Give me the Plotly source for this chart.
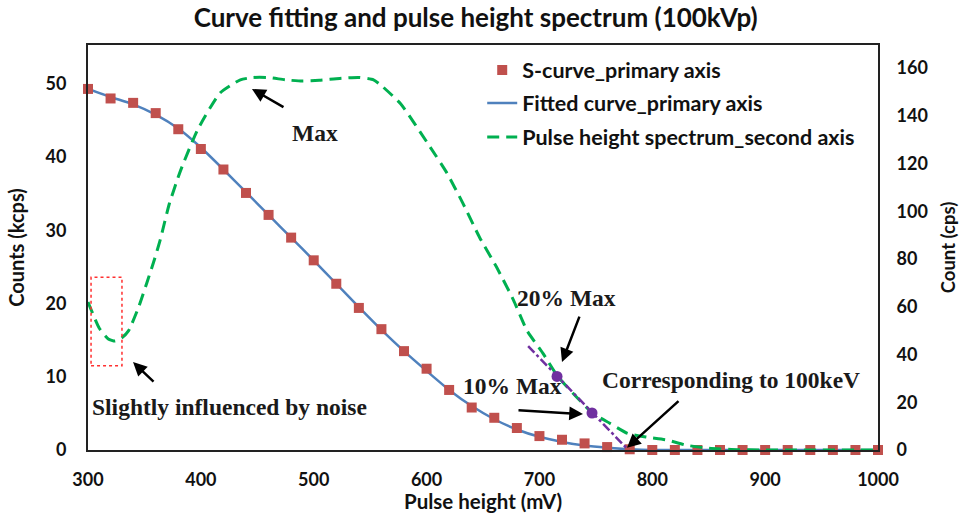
import plotly.graph_objects as go

# ---- data ----
pulse_mv = [300, 320, 340, 360, 380, 400, 420, 440, 460, 480, 500, 520, 540, 560, 580, 600,
            620, 640, 660, 680, 700, 720, 740, 760, 780, 800, 820, 840, 860, 880, 900, 920,
            940, 960, 980, 1000]
s_curve = [49.3, 48.0, 47.4, 46.0, 43.8, 41.1, 38.3, 35.1, 32.1, 29.0, 25.9, 22.7, 19.4, 16.5,
           13.5, 11.1, 8.2, 5.8, 4.4, 3.0, 1.9, 1.4, 0.9, 0.4, 0.1, 0, 0, 0, 0, 0, 0, 0,
           0, 0, 0, 0]
fitted = [49.3, 48.2, 47.2, 45.8, 43.9, 41.3, 38.3, 35.2, 32.1, 29.0, 25.9, 22.7, 19.5, 16.4,
          13.5, 10.8, 8.2, 6.0, 4.2, 2.8, 1.8, 1.1, 0.6, 0.3, 0.1, 0, 0, 0, 0, 0, 0, 0,
          0, 0, 0, 0]

spec_mv = [300, 310, 318, 324, 330, 336, 345, 359, 364, 372, 382, 397, 417, 435, 446, 460, 475,
           490, 505, 523, 540, 553, 559, 577, 603, 618, 632, 647, 662, 677, 689, 703, 716, 747,
           762, 778, 795, 813, 830, 850, 870, 900, 1000]
spec_cps = [62, 51, 46.5, 45.6, 47, 50, 60, 80, 88, 103, 117, 134, 149.5, 155, 156, 156, 155,
            154.5, 154.8, 155.6, 156, 155, 153, 145, 127, 116, 103.5, 89, 76.6, 62.8, 50, 40.6,
            31, 15.5, 11.3, 7, 5.4, 4.2, 2, 0.8, 0.2, 0, 0]

pct_mv = [715.6, 746.6]          # 20% Max, 10% Max points
pct_cps = [30.8, 15.5]
extrap_mv = [690, 778]           # extrapolation line
extrap_cps = [43.5, 0.4]

x_ticks = [300, 400, 500, 600, 700, 800, 900, 1000]
left_ticks = [0, 10, 20, 30, 40, 50]
right_ticks = [0, 20, 40, 60, 80, 100, 120, 140, 160]

SANS = "Lato, 'Open Sans', sans-serif"
SERIF = "'Liberation Serif', 'DejaVu Serif', serif"
BOLDTICK = dict(family=SANS, size=18, color="#111", weight="bold")

fig = go.Figure()

fig.add_trace(go.Scatter(
    x=pulse_mv, y=fitted, mode="lines", name="Fitted curve_primary axis",
    line=dict(color="#4F81BD", width=2.5, shape="spline", smoothing=0.6),
    legend="legend2", cliponaxis=False))
fig.add_trace(go.Scatter(
    x=pulse_mv, y=s_curve, mode="markers", name="S-curve_primary axis",
    marker=dict(symbol="square", size=10, color="#C0504D"),
    legend="legend", cliponaxis=False))
fig.add_trace(go.Scatter(
    x=spec_mv, y=spec_cps, mode="lines", name="Pulse height spectrum_second axis",
    line=dict(color="#00B050", width=3, dash="12px,7px", shape="spline", smoothing=0.5),
    yaxis="y2", legend="legend3", cliponaxis=False))
fig.add_trace(go.Scatter(
    x=extrap_mv, y=extrap_cps, mode="lines", showlegend=False,
    line=dict(color="#7030A0", width=2.5, dash="dashdot"), yaxis="y2"))
fig.add_trace(go.Scatter(
    x=pct_mv, y=pct_cps, mode="markers", showlegend=False,
    marker=dict(symbol="circle", size=11, color="#7030A0"), yaxis="y2"))

# arrows (tip in data coords, tail offset in pixels)
arrows = [
    (445.3, 49.3, 33, 19),
    (339.9, 12.0, 22, 21),
    (720.0, 12.0, 18, -47),
    (738.6, 4.9, -66, -4),
    (777.6, 0.3, 53, -48),
]
for x, y, ax, ay in arrows:
    fig.add_annotation(x=x, y=y, ax=ax, ay=ay, xref="x", yref="y", text="",
                       showarrow=True, arrowhead=2, arrowsize=1.1, arrowwidth=2.5,
                       arrowcolor="black")

labels = [
    ("Max", 501, 43.3),
    ("Slightly influenced by noise", 425.8, 5.9),
    ("20% Max", 724.4, 20.8),
    ("10% Max", 675.7, 8.7),
    ("Corresponding to 100keV", 869.8, 9.6),
]
for t, x, y in labels:
    fig.add_annotation(x=x, y=y, xref="x", yref="y", text="<b>%s</b>" % t,
                       showarrow=False, font=dict(family=SERIF, size=23.5, color="#1a1a1a"))

# x-axis title placed just under the tick labels
fig.add_annotation(x=0.5, y=-0.125, xref="paper", yref="paper", xanchor="center",
                   yanchor="middle", text="<b>Pulse height (mV)</b>", showarrow=False,
                   font=dict(family=SANS, size=20.5, color="#111"))

fig.add_shape(type="rect", xref="x", yref="y", x0=302.7, x1=330.1, y0=11.5, y1=23.6,
              line=dict(color="#FF3030", width=1.5, dash="dot"))

fig.update_layout(
    width=959, height=514,
    margin=dict(l=88, r=81, t=45, b=64),
    paper_bgcolor="white", plot_bgcolor="white",
    title=dict(text="<b>Curve fitting and pulse height spectrum (100kVp)</b>",
               x=0.496, xanchor="center", y=0.965, yanchor="middle",
               font=dict(family=SANS, size=26, color="#111")),
    font=dict(family=SANS, color="#111"),
    xaxis=dict(range=[300, 1000], tickvals=x_ticks, showgrid=False, zeroline=False,
               showline=True, linecolor="#222", linewidth=2, mirror=True, automargin=False,
               ticks="outside", ticklen=12, tickcolor="rgba(0,0,0,0)",
               tickfont=BOLDTICK),
    yaxis=dict(range=[0, 55.3], tickvals=left_ticks, showgrid=False, zeroline=False,
               showline=True, linecolor="#222", linewidth=2, mirror=True, automargin=False,
               ticks="outside", ticklen=16, tickcolor="rgba(0,0,0,0)",
               tickfont=BOLDTICK,
               title=dict(text="<b>Counts (kcps)</b>", standoff=16,
                          font=dict(family=SANS, size=20, color="#111"))),
    yaxis2=dict(range=[0, 169.6], tickvals=right_ticks, overlaying="y", side="right",
                showgrid=False, zeroline=False, showline=False, automargin=False,
                ticks="outside", ticklen=14, tickcolor="rgba(0,0,0,0)",
                tickfont=BOLDTICK,
                title=dict(text="<b>Count (cps)</b>", standoff=18,
                           font=dict(family=SANS, size=18.5, color="#111"))),
)

leg_common = dict(xanchor="left", yanchor="middle", bgcolor="rgba(0,0,0,0)",
                  font=dict(family=SANS, size=21.5, color="#111", weight="bold"), itemwidth=30)
fig.update_layout(
    legend=dict(x=0.499, y=0.938, **leg_common),
    legend2=dict(x=0.499, y=0.857, **leg_common),
    legend3=dict(x=0.499, y=0.773, **leg_common),
)

fig.write_html("out.html")
